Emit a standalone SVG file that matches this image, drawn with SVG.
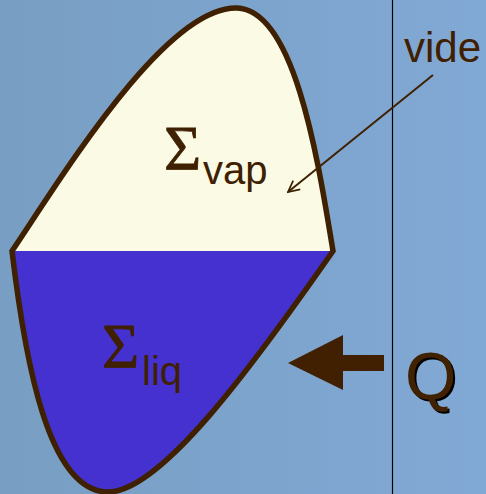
<svg xmlns="http://www.w3.org/2000/svg" width="486" height="494" viewBox="0 0 486 494">
<defs>
<linearGradient id="bg" x1="0" y1="0" x2="1" y2="0">
<stop offset="0" stop-color="#789ec3"/>
<stop offset="1" stop-color="#81a9d5"/>
</linearGradient>
<filter id="shadow" x="-20%" y="-20%" width="140%" height="140%">
<feDropShadow dx="2" dy="2" stdDeviation="0" flood-color="#000" flood-opacity="1"/>
</filter>
<marker id="open" viewBox="0 0 20 20" refX="18" refY="10" markerWidth="14" markerHeight="14" markerUnits="userSpaceOnUse" orient="auto">
<path d="M2,2 L18,10 L2,18" fill="none" stroke="#3f2000" stroke-width="2.5"/>
</marker>
<style>
.outline{fill:none;stroke:#3f2000;stroke-width:5.5;stroke-linejoin:miter}
.sig{font-family:"Liberation Serif","Times New Roman",serif;font-size:64px;fill:#3f2000;stroke:#3f2000;stroke-width:0.8}
.sub{font-family:"Liberation Sans",Arial,sans-serif;font-size:40px;fill:#3f2000}
.lbl{font-family:"Liberation Sans",Arial,sans-serif;font-size:42px;fill:#3f2000}
</style>
</defs>
<rect width="486" height="494" fill="url(#bg)"/>
<line x1="392.5" y1="0" x2="392.5" y2="494" stroke="#000" stroke-width="1.2"/>
<g id="vapeur">
<path d="M12,251 C60,180 165,6 237,8 C295,10 318,160 333,251 Z" fill="#fafae5"/>
</g>
<g id="liquide">
<path d="M12,251 C25,360 48,492 108,492 C160,492 250,370 333,251 Z" fill="#4431d0"/>
</g>
<g id="contour">
<path class="outline" d="M12,251 C60,180 165,6 237,8 C295,10 318,160 333,251 C250,370 160,492 108,492 C48,492 25,360 12,251 Z"/>
</g>
<g id="label-vap">
<text class="sig" x="164" y="170">Σ</text>
<text class="sub" x="203" y="184">vap</text>
</g>
<g id="label-liq">
<text class="sig" x="102" y="368">Σ</text>
<text class="sub" x="142" y="385">liq</text>
</g>
<g id="label-vide">
<text class="lbl" x="404" y="62">vide</text>
</g>
<g id="label-Q">
<text class="lbl" x="405" y="399" style="font-size:66px" filter="url(#shadow)">Q</text>
</g>
<g id="connectors">
<line x1="433" y1="75" x2="288" y2="192" stroke="#3f2000" stroke-width="2" marker-end="url(#open)"/>
<polygon points="384,355 343,355 343,335 288,363 343,390 343,371 384,371" fill="#402000"/>
</g>
</svg>
